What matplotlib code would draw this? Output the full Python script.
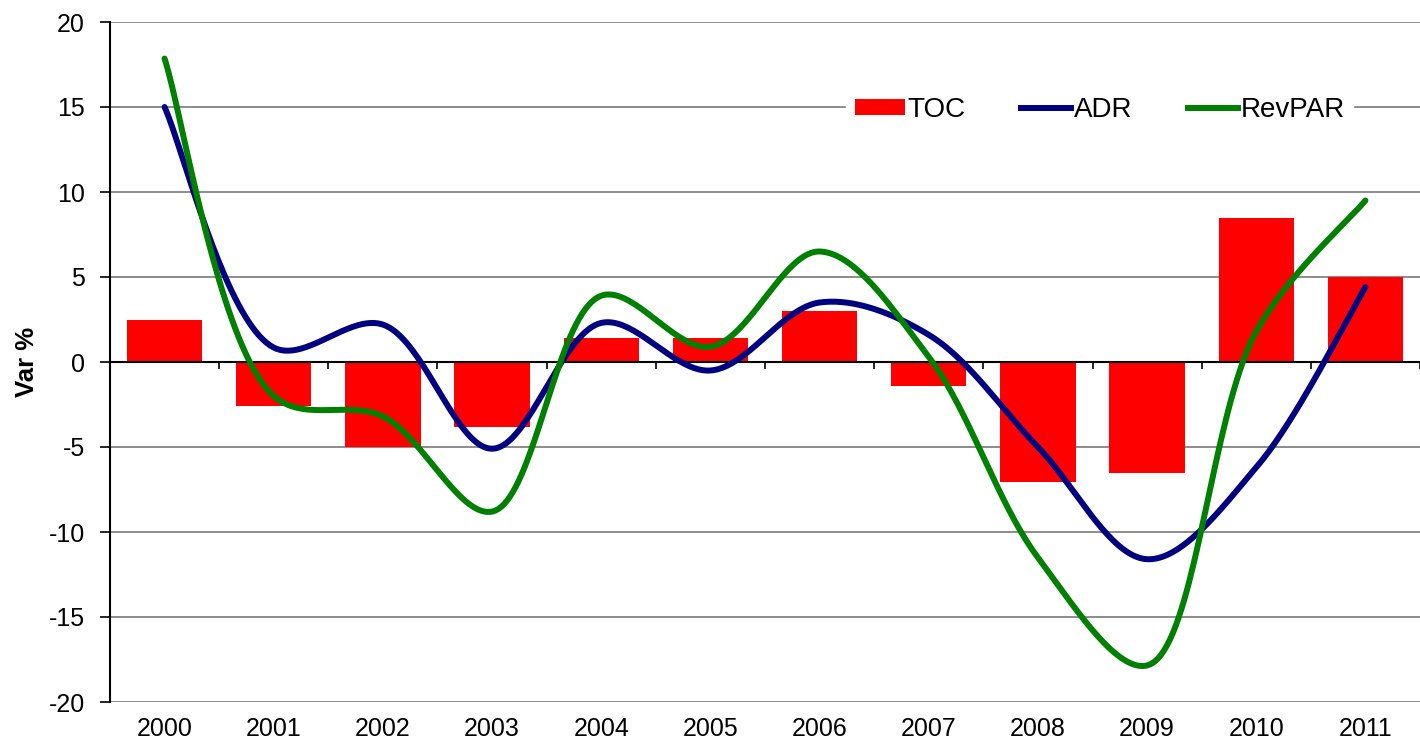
import numpy as np
import matplotlib
matplotlib.use("Agg")
import matplotlib.pyplot as plt
from matplotlib.patches import Patch
from matplotlib.lines import Line2D

years = ["2000", "2001", "2002", "2003", "2004", "2005", "2006", "2007", "2008", "2009", "2010", "2011"]
toc = [2.5, -2.6, -5.0, -3.8, 1.4, 1.4, 3.0, -1.4, -7.05, -6.5, 8.45, 5.0]
adr = [15.0, 0.85, 2.2, -5.1, 2.3, -0.5, 3.5, 1.6, -5.0, -11.6, -6.2, 4.4]
revpar = [17.85, -2.0, -3.2, -8.8, 3.9, 0.9, 6.5, 0.3, -11.5, -17.85, 1.8, 9.5]

plt.rcParams['font.family'] = ['Liberation Sans', 'DejaVu Sans']
plt.rcParams['axes.unicode_minus'] = False

# axes geometry in pixels (figure 1420 x 745 at 100 dpi)
AX_L, AX_B, AX_W, AX_H = 110, 43, 1310, 680
N = len(years)
XSCALE = AX_W / N          # pixels per category
YSCALE = AX_H / 40.0       # pixels per unit


def smooth(xv, yv, n=40, alpha=0.5):
    """Centripetal Catmull-Rom (computed in pixel space), returned in data units."""
    pts = np.column_stack([np.asarray(xv, float) * XSCALE, np.asarray(yv, float) * YSCALE])
    out = []
    t = np.linspace(0, 1, n)[:, None]
    m = len(pts)
    for i in range(m - 1):
        p1, p2 = pts[i], pts[i + 1]
        d2 = np.linalg.norm(p2 - p1)
        if i == 0:
            c1 = p1 + (p2 - p1) / 6.0
        else:
            p0 = pts[i - 1]
            d1 = np.linalg.norm(p1 - p0)
            a1, a2 = d1 ** alpha, d2 ** alpha
            c1 = (d1 ** (2 * alpha) * p2 - d2 ** (2 * alpha) * p0
                  + (2 * d1 ** (2 * alpha) + 3 * a1 * a2 + d2 ** (2 * alpha)) * p1) / (3 * a1 * (a1 + a2))
        if i == m - 2:
            c2 = p2 - (p2 - p1) / 6.0
        else:
            p3 = pts[i + 2]
            d3 = np.linalg.norm(p3 - p2)
            a3, a2 = d3 ** alpha, d2 ** alpha
            c2 = (d3 ** (2 * alpha) * p1 - d2 ** (2 * alpha) * p3
                  + (2 * d3 ** (2 * alpha) + 3 * a3 * a2 + d2 ** (2 * alpha)) * p2) / (3 * a3 * (a3 + a2))
        seg = ((1 - t) ** 3) * p1 + 3 * ((1 - t) ** 2) * t * c1 + 3 * (1 - t) * t ** 2 * c2 + t ** 3 * p2
        out.append(seg if i == 0 else seg[1:])
    s = np.vstack(out)
    return s[:, 0] / XSCALE, s[:, 1] / YSCALE


fig = plt.figure(figsize=(14.2, 7.45), dpi=100)
ax = fig.add_axes([AX_L / 1420, AX_B / 745, AX_W / 1420, AX_H / 745])

x = np.arange(N)
ax.bar(x, toc, width=0.69, color='#FF0000', zorder=2)
ax.set_xlim(-0.5, N - 0.5)
ax.set_ylim(-20, 20)
ax.set_yticks(np.arange(-20, 21, 5))
ax.tick_params(axis='y', labelsize=18, length=7, width=1.2, direction='out', pad=11)

for v in np.arange(-20, 21, 5):
    if v != 0:
        ax.axhline(v, color='#8c8c8c', lw=1.4, zorder=1)

sx, sy = smooth(x, adr)
ax.plot(sx, sy, color='#000080', lw=4.3, solid_capstyle='round', zorder=4)
sx, sy = smooth(x, revpar)
ax.plot(sx, sy, color='#008000', lw=4.3, solid_capstyle='round', zorder=5)

for s in ['top', 'right']:
    ax.spines[s].set_visible(False)
ax.spines['left'].set_linewidth(1.5)
ax.spines['bottom'].set_position(('data', 0))
ax.spines['bottom'].set_linewidth(1.5)
ax.spines['bottom'].set_zorder(3)
ax.set_xticks(np.arange(-0.5, N, 1.0))
ax.set_xticklabels([])
ax.tick_params(axis='x', length=5, width=1.2, direction='out')

sec = ax.secondary_xaxis('bottom')
sec.set_xticks(x, labels=years)
sec.tick_params(length=0, pad=11, labelsize=18)
sec.spines['bottom'].set_visible(False)

ax.set_ylabel('Var %', fontsize=18.5, fontweight='bold', labelpad=7)

handles = [Patch(facecolor='#FF0000', edgecolor='none'),
           Line2D([0], [0], color='#000080', lw=4.3),
           Line2D([0], [0], color='#008000', lw=4.3)]
leg = ax.legend(handles, ['TOC', 'ADR', 'RevPAR'], ncol=3, loc='center',
                bbox_to_anchor=(0.7555, 0.871), fontsize=20, frameon=True,
                framealpha=1, edgecolor='white', facecolor='white',
                handlelength=1.8, handleheight=0.55, handletextpad=0.1,
                columnspacing=2.0, borderpad=0.3, fancybox=False)
leg.set_zorder(6)

fig.savefig('out.png', dpi=100, facecolor='white')
